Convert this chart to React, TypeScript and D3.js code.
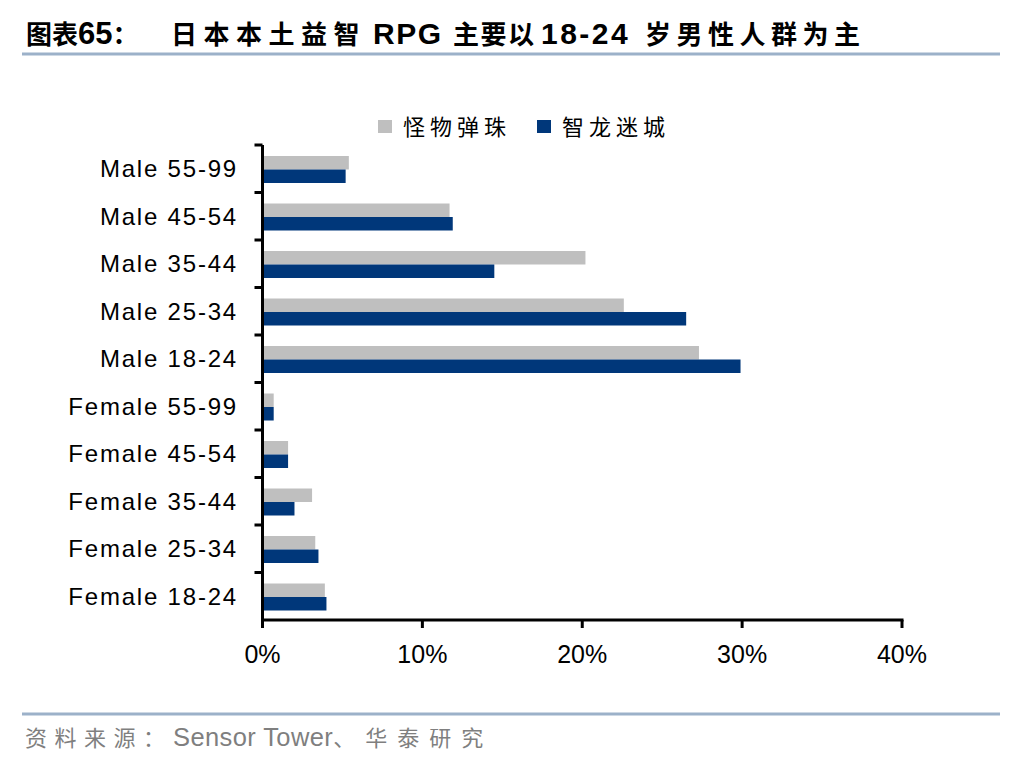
import React from "react";
import * as d3 from "d3";

const categories = [
  "Male 55-99",
  "Male 45-54",
  "Male 35-44",
  "Male 25-34",
  "Male 18-24",
  "Female 55-99",
  "Female 45-54",
  "Female 35-44",
  "Female 25-34",
  "Female 18-24",
];
const seriesNames = ["怪物弹珠", "智龙迷城"];
const monsterStrike = [5.4, 11.7, 20.2, 22.6, 27.3, 0.7, 1.6, 3.1, 3.3, 3.9];
const puzzleDragons = [5.2, 11.9, 14.5, 26.5, 29.9, 0.7, 1.6, 2.0, 3.5, 4.0];
const xTicks = [0, 10, 20, 30, 40];
const colors = ["#bfbfbf", "#00377a"];

const W = 1036;
const H = 760;
const latin = "'Liberation Sans', Arial, sans-serif";
const cjk = "'Liberation Sans', 'Noto Sans CJK SC', sans-serif";

export default function App() {
  const x = d3.scaleLinear().domain([0, 40]).range([262.5, 902]);
  const y = d3.scaleBand<string>().domain(categories).range([145, 620]);
  const inner = d3
    .scaleBand<number>()
    .domain([0, 1])
    .range([11, y.bandwidth() - 9.5]);
  const series = [monsterStrike, puzzleDragons];

  return (
    <svg
      width={W}
      height={H}
      style={{ display: "block", position: "absolute", left: 0, top: 0 }}
    >
      <rect width={W} height={H} fill="#fff" />

      {/* title, pieces placed as in the report */}
      <text y={44} fontFamily={cjk} fontWeight="bold" fill="#000">
        <tspan x={26} fontSize={26}>图表</tspan>
        <tspan fontSize={31} fontWeight="bold">65</tspan>
        <tspan fontSize={26}>：</tspan>
        <tspan x={171} fontSize={26} letterSpacing={6.5}>日本本土益智</tspan>
        <tspan x={373} fontSize={30} letterSpacing={1.5}>RPG</tspan>
        <tspan x={453} fontSize={26} letterSpacing={1.5}>主要以</tspan>
        <tspan x={541} fontSize={30} letterSpacing={2.5}>18-24</tspan>
        <tspan x={645} fontSize={26} letterSpacing={5.5}>岁男性人群为主</tspan>
      </text>
      <line x1={22} x2={1000} y1={54} y2={54} stroke="#9cb1c9" strokeWidth={3} />

      {/* legend */}
      {seriesNames.map((name, i) => {
        const lx = [378, 537][i];
        return (
          <g key={name}>
            <rect x={lx} y={120} width={14} height={13} fill={colors[i]} />
            <text
              x={lx + 25}
              y={135}
              fontFamily={cjk}
              fontSize={22}
              letterSpacing={5}
              fill="#000"
            >
              {name}
            </text>
          </g>
        );
      })}

      {/* bars */}
      {categories.map((c, ci) => (
        <g key={c} transform={`translate(0,${y(c)})`}>
          {series.map((s, si) => (
            <rect
              key={si}
              x={x(0)}
              y={inner(si)}
              width={x(s[ci]) - x(0)}
              height={inner.bandwidth()}
              fill={colors[si]}
            />
          ))}
        </g>
      ))}

      {/* y axis */}
      <line x1={x(0)} x2={x(0)} y1={145} y2={621} stroke="#000" strokeWidth={3} />
      {categories.map((c) => (
        <g key={c}>
          <line
            x1={x(0) - 8}
            x2={x(0)}
            y1={y(c)!}
            y2={y(c)!}
            stroke="#000"
            strokeWidth={3}
          />
          <text
            x={238}
            y={y(c)! + y.bandwidth() / 2}
            dy="0.35em"
            textAnchor="end"
            fontFamily={latin}
            fontSize={24}
            letterSpacing={1.8}
            fill="#000"
          >
            {c}
          </text>
        </g>
      ))}

      {/* x axis */}
      <line x1={x(0) - 1.5} x2={x(40) + 1.5} y1={620} y2={620} stroke="#000" strokeWidth={3} />
      {xTicks.map((t) => (
        <g key={t}>
          <line x1={x(t)} x2={x(t)} y1={620} y2={628} stroke="#000" strokeWidth={3} />
          <text
            x={x(t)}
            y={663}
            textAnchor="middle"
            fontFamily={latin}
            fontSize={25}
            fill="#000"
          >
            {t}%
          </text>
        </g>
      ))}

      {/* source */}
      <line x1={22} x2={1000} y1={714} y2={714} stroke="#9cb1c9" strokeWidth={3} />
      <text y={746} fontFamily={cjk} fill="#7f7f7f">
        <tspan x={25} fontSize={22} letterSpacing={7.5}>资料来源：</tspan>
        <tspan x={173} fontSize={25.5} letterSpacing={0.4}>Sensor Tower</tspan>
        <tspan fontSize={22} letterSpacing={10}>、华泰研究</tspan>
      </text>
    </svg>
  );
}
